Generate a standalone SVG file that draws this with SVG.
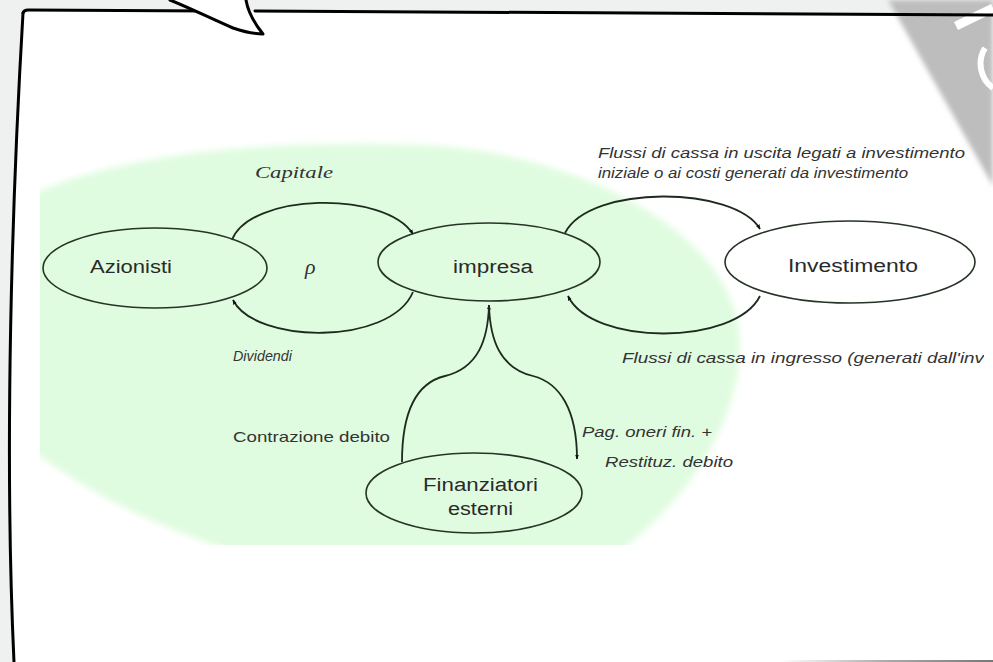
<svg xmlns="http://www.w3.org/2000/svg" width="993" height="662" viewBox="0 0 993 662">
<style>
.node{fill:none;stroke:#263326;stroke-width:1.6}
.conn{fill:none;stroke:#1f2a1f;stroke-width:1.8}
.nl{font-family:"Liberation Sans",Arial,sans-serif;font-size:18px;fill:#2a2a2a}
.lab{font-family:"Liberation Sans",Arial,sans-serif;font-size:14px;font-style:italic;fill:#333}
.up{font-family:"Liberation Sans",Arial,sans-serif;font-size:15px;fill:#333}
.ser{font-family:"Liberation Serif","Times New Roman",serif;font-style:italic;fill:#333}
.border{fill:none;stroke:#000;stroke-width:3;stroke-linecap:round;stroke-linejoin:round}
</style>
<defs>
<marker id="arr" viewBox="0 0 10 10" refX="9" refY="5" markerWidth="5" markerHeight="5" orient="auto" markerUnits="userSpaceOnUse">
<path d="M0,1 L10,5 L0,9 Z" fill="#111"/>
</marker>
<filter id="soft" x="-10%" y="-10%" width="120%" height="120%"><feGaussianBlur stdDeviation="2.5"/></filter>
<filter id="soft2" x="-20%" y="-20%" width="140%" height="140%"><feGaussianBlur stdDeviation="3"/></filter>
<clipPath id="pic"><rect x="40" y="100" width="944" height="445"/></clipPath>
<linearGradient id="shadow" x1="0" y1="0" x2="1" y2="0">
<stop offset="0" stop-color="#ffffff"/><stop offset="0.5" stop-color="#aaaaaa"/><stop offset="1" stop-color="#777777"/>
</linearGradient>
</defs>

<!-- page background -->
<rect x="0" y="0" width="993" height="662" fill="#eff1f0"/>
<!-- bubble body -->
<path d="M23,13 Q24,10 28,10 L200,11 L255,11 L993,15 L993,662 L14,662 C4,450 12,200 23,13 Z" fill="#ffffff"/>

<!-- top-right grey decoration -->
<g id="corner-deco">
<polygon points="888,0 993,0 993,186" fill="#bdbdbd" filter="url(#soft)"/>
<path d="M956,26 L993,8" stroke="#ffffff" stroke-width="9" fill="none"/>
<path d="M985,48 A30,30 0 0 0 993,88" stroke="#ffffff" stroke-width="6" fill="none"/>
</g>

<!-- picture: green backdrop -->
<g clip-path="url(#pic)">
<path d="M20,200 C120,150 280,140 420,145 C570,150 740,230 740,345 C740,420 690,500 615,555 L245,555 C160,530 80,490 20,440 Z" fill="#e0fce0" filter="url(#soft2)"/>
</g>

<!-- bubble border -->
<path class="border" d="M23,13 Q24,10 28,10 L210,11"/>
<path class="border" d="M255,11 L993,15"/>
<path class="border" d="M23,13 C12,200 4,450 14,662"/>
<path d="M170,0 C190,8 210,18 233,28 C245,32 255,34 263,34 C255,24 248,12 246,0 Z" fill="#ffffff"/>
<path class="border" d="M170,0 C190,8 210,18 233,28 C245,32 255,34 263,34 C255,24 248,12 246,0"/>
<rect x="780" y="660" width="213" height="2" fill="url(#shadow)"/>

<!-- connectors -->
<g id="connectors">
<path class="conn" d="M232,240 C250,193 385,190 413,234" marker-end="url(#arr)"/>
<path class="conn" d="M413,292 C390,346 255,344 233,300" marker-end="url(#arr)"/>
<path class="conn" d="M565,233 C590,184 735,186 760,229" marker-end="url(#arr)"/>
<path class="conn" d="M760,296 C735,346 592,346 568,296" marker-end="url(#arr)"/>
<path class="conn" d="M402,462 C402,405 420,382 445,376 C478,368 488,340 489,305" marker-end="url(#arr)"/>
<path class="conn" d="M489,305 C490,340 500,368 533,376 C560,383 577,410 577,459" marker-end="url(#arr)"/>
</g>

<!-- nodes -->
<g id="azionisti">
<ellipse class="node" cx="155" cy="268" rx="112" ry="40"/>
<text class="nl" x="90" y="273" textLength="82" lengthAdjust="spacingAndGlyphs">Azionisti</text>
</g>
<g id="impresa">
<ellipse class="node" cx="489" cy="262" rx="111" ry="39"/>
<text class="nl" x="453" y="273" textLength="80" lengthAdjust="spacingAndGlyphs">impresa</text>
</g>
<g id="investimento">
<ellipse class="node" cx="850" cy="262" rx="125" ry="41"/>
<text class="nl" x="788" y="272" textLength="130" lengthAdjust="spacingAndGlyphs">Investimento</text>
</g>
<g id="finanziatori">
<ellipse class="node" cx="474" cy="493" rx="108" ry="40"/>
<text class="nl" x="423" y="491" textLength="115" lengthAdjust="spacingAndGlyphs">Finanziatori</text>
<text class="nl" x="448" y="515" textLength="65" lengthAdjust="spacingAndGlyphs">esterni</text>
</g>
<g id="rho">
<text class="ser" x="305" y="274" font-size="22">ρ</text>
</g>

<!-- labels -->
<g id="labels">
<text class="ser" x="255" y="178" font-size="16" textLength="78" lengthAdjust="spacingAndGlyphs">Capitale</text>
<text class="lab" x="233" y="361" textLength="59" lengthAdjust="spacingAndGlyphs">Dividendi</text>
<text class="lab" x="598" y="158" textLength="367" lengthAdjust="spacingAndGlyphs">Flussi di cassa in uscita legati a investimento</text>
<text class="lab" x="598" y="178" textLength="310" lengthAdjust="spacingAndGlyphs">iniziale o ai costi generati da investimento</text>
<g clip-path="url(#pic)">
<text class="lab" x="622" y="363" textLength="362" lengthAdjust="spacingAndGlyphs">Flussi di cassa in ingresso (generati dall'inv</text>
</g>
<text class="up" x="233" y="442" textLength="157" lengthAdjust="spacingAndGlyphs">Contrazione debito</text>
<text class="lab" x="582" y="437" textLength="130" lengthAdjust="spacingAndGlyphs">Pag. oneri fin. +</text>
<text class="lab" x="605" y="467" textLength="128" lengthAdjust="spacingAndGlyphs">Restituz. debito</text>
</g>
</svg>
